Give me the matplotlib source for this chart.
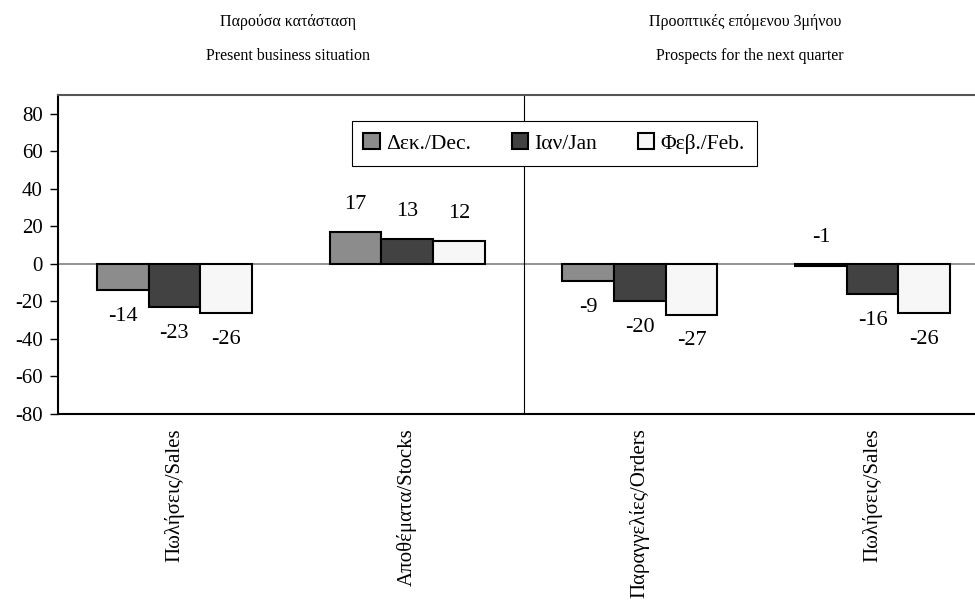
import matplotlib
matplotlib.use("Agg")
import matplotlib.pyplot as plt
import numpy as np

# data
categories = ["Πωλήσεις/Sales", "Αποθέματα/Stocks", "Παραγγελίες/Orders", "Πωλήσεις/Sales"]
series_names = ["Δεκ./Dec.", "Ιαν/Jan", "Φεβ./Feb."]
dec_vals = [-14, 17, -9, -1]
jan_vals = [-23, 13, -20, -16]
feb_vals = [-26, 12, -27, -26]
colors = ["#8c8c8c", "#424242", "#f7f7f7"]

plt.rcParams['font.family'] = ['Liberation Serif', 'DejaVu Serif']
plt.rcParams['axes.unicode_minus'] = False

def plot():
    fig = plt.figure(figsize=(9.75, 6.08), dpi=100)
    ax = fig.add_axes([58/975, 194/608, 931/975, 319/608])

    x = np.arange(len(categories))
    w = 0.222
    for i, (name, vals) in enumerate(zip(series_names, [dec_vals, jan_vals, feb_vals])):
        xs = x + (i - 1) * w
        ax.bar(xs, vals, width=w, color=colors[i], edgecolor="black", linewidth=1.5,
               label=name, zorder=3)
        for xi, v in zip(xs, vals):
            # Excel placed the tiny -1 label above the axis
            off = 20 if v > -2 else -19
            ax.annotate(str(v), (xi, v), xytext=(0, off),
                        textcoords="offset points", ha="center", va="center", fontsize=16)

    ax.axhline(0, color="#808080", lw=1.2, zorder=2)
    ax.axvline(1.5, color="black", lw=0.8, zorder=2)

    ax.set_xlim(-0.5, 3.5)
    ax.set_ylim(-80, 90)
    ax.set_yticks(range(-80, 81, 20))
    ax.tick_params(axis="y", labelsize=15, direction="out", length=6, width=1, pad=5)
    ax.set_xticks(x)
    ax.set_xticklabels(categories, rotation=90, fontsize=15, va="top")
    ax.tick_params(axis="x", length=0, pad=10)
    for s in ax.spines.values():
        s.set_linewidth(1.5)
    ax.spines["top"].set_color("#555555")

    leg = ax.legend(loc="center", bbox_to_anchor=(0.533, 0.848), ncol=3, fontsize=15.5,
                    frameon=True, fancybox=False, edgecolor="black", framealpha=1,
                    handlelength=0.75, handleheight=0.75, handletextpad=0.3,
                    columnspacing=1.9, borderpad=0.55)
    leg.get_frame().set_linewidth(0.8)

    fig.text(288/975, 1 - 22/608, "Παρούσα κατάσταση", ha="center", va="center", fontsize=11.5)
    fig.text(288/975, 1 - 56/608, "Present business situation", ha="center", va="center", fontsize=11.5)
    fig.text(745/975, 1 - 22/608, "Προοπτικές επόμενου 3μήνου", ha="center", va="center", fontsize=11.5)
    fig.text(750/975, 1 - 56/608, "Prospects for the next quarter", ha="center", va="center", fontsize=11.5)

    fig.savefig("out.png", dpi=100)

if __name__ == "__main__":
    plot()
